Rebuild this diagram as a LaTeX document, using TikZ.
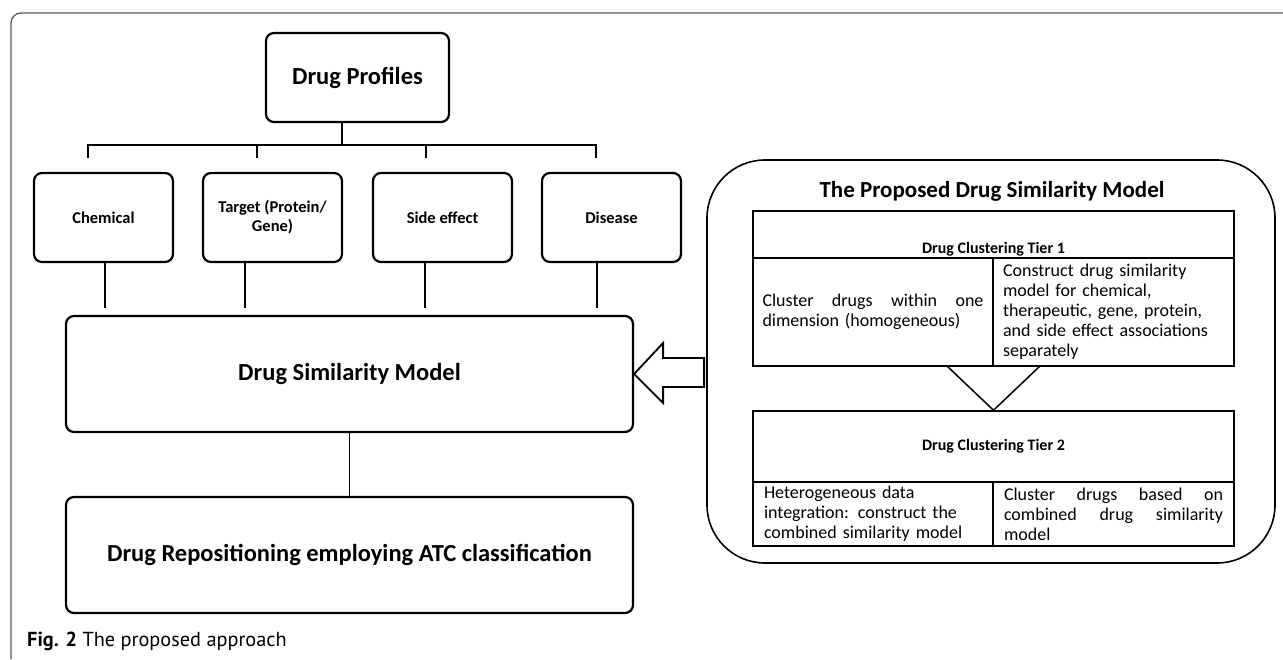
\documentclass[tikz,border=0pt]{standalone}
\usepackage{fontspec}
\setmainfont{Carlito}
\newfontfamily\capfont{PT Sans}
\begin{document}
\begin{tikzpicture}[x=1pt,y=-1pt,
  rbox/.style={draw, line width=2.2pt, rounded corners=8pt, inner sep=2pt, align=center},
  small/.style={font=\bfseries\fontsize{16.5}{19}\selectfont},
  big/.style={font=\bfseries\fontsize{24.5}{28}\selectfont},
  conn/.style={line width=2.2pt},
  tbl/.style={draw, line width=1.5pt, inner sep=0pt},
  body/.style={font=\fontsize{18}{20}\selectfont},
  hdr/.style={font=\bfseries\fontsize{16}{19}\selectfont}]
\useasboundingbox (0,0) rectangle (1283,659);
% outer frame
\draw[black!65, line width=1.3pt, rounded corners=10pt] (11,659) -- (11,13) -- (1283,13);
% left boxes
\node[rbox, big, minimum width=183pt, minimum height=89pt] (prof) at (357.5,77.5) {Drug Profiles};
\node[rbox, small, minimum width=139pt, minimum height=89pt] (chem) at (103.5,217.5) {Chemical};
\node[rbox, small, minimum width=139pt, minimum height=89pt] (targ) at (272.5,217.5) {Target (Protein/\\ Gene)};
\node[rbox, small, minimum width=139pt, minimum height=89pt] (side) at (442.5,217.5) {Side effect};
\node[rbox, small, minimum width=139pt, minimum height=89pt] (dis) at (611.5,217.5) {Disease};
\node[rbox, big, minimum width=567pt, minimum height=116pt] (dsm) at (349.5,374) {Drug Similarity Model};
\node[rbox, big, minimum width=567pt, minimum height=116pt] (rep) at (349.5,555) {Drug Repositioning employing ATC classification};
% tree connectors
\coordinate (t0) at (342,145);
\coordinate (b1) at (88,145);
\coordinate (b2) at (257,145);
\coordinate (b3) at (426,145);
\coordinate (b4) at (596,145);
\draw[conn] (prof.south -| t0) -- (t0);
\draw[conn, line cap=rect] (b1) -- (b4);
\draw[conn] (b1) -- ++(0,13);
\draw[conn] (b2) -- ++(0,13);
\draw[conn] (b3) -- ++(0,13);
\draw[conn] (b4) -- ++(0,13);
\coordinate (l1) at (105,308);
\coordinate (l2) at (245,308);
\coordinate (l3) at (425,308);
\coordinate (l4) at (597,308);
\draw[conn] (chem.south -| l1) -- (l1);
\draw[conn] (targ.south -| l2) -- (l2);
\draw[conn] (side.south -| l3) -- (l3);
\draw[conn] (dis.south -| l4) -- (l4);
\draw[line width=1.6pt] (dsm.south) -- (rep.north);
% hollow arrow
\draw[line width=1.8pt] (dsm.east) -- ++(29,-31) -- ++(0,15) -- ++(41,0) -- ++(0,29) -- ++(-41,0) -- ++(0,16) -- cycle;
% right panel
\node[draw, line width=1.6pt, rounded corners=58pt, minimum width=568pt, minimum height=403pt, inner sep=0pt] (panel) at (991,361.5) {};
\node[anchor=base, font=\bfseries\fontsize{23}{27}\selectfont] (title) at (992,197) {The Proposed Drug Similarity Model};
% tier 1
\node[tbl, minimum width=481pt, minimum height=47pt] (h1) at (993.5,234.5) {};
\node[hdr, anchor=base] (h1t) at (993.5,253) {Drug Clustering Tier 1};
\node[tbl, body, text width=221pt, inner xsep=9.5pt, minimum height=108pt, align=left] (c1a) at (873,312)
  {Cluster\hfill drugs\hfill within\hfill one\\dimension (homogeneous)};
\node[tbl, body, text width=221pt, inner xsep=10pt, minimum height=108pt, align=left] (c1b) at (1113.5,312)
  {Construct drug similarity\\model for chemical,\\therapeutic, gene, protein,\\and side effect associations\\separately};
% tier 2
\node[tbl, hdr, minimum width=481pt, minimum height=71pt] (h2) at (993.5,446.5) {Drug Clustering Tier 2};
\node[tbl, body, text width=218pt, inner xsep=11pt, minimum height=64pt, align=left] (c2a) at (873,514)
  {Heterogeneous data\\integration: construct the\\combined similarity model};
\node[tbl, body, text width=219pt, inner xsep=11pt, minimum height=64pt, align=left] (c2b) at (1113.5,514)
  {Cluster\hfill drugs\hfill based\hfill on\\combined\hfill drug\hfill similarity\\model};
% V connector
\coordinate (v1) at (947,366);
\coordinate (v2) at (1040,366);
\draw[line width=1.5pt] (v1) -- (h2.north) -- (v2);
% caption
\node[anchor=base west, inner sep=0pt, font=\capfont\fontsize{20.3}{22}\selectfont] (cap) at (27,646) {\textbf{Fig. 2} The proposed approach};
\end{tikzpicture}
\end{document}
